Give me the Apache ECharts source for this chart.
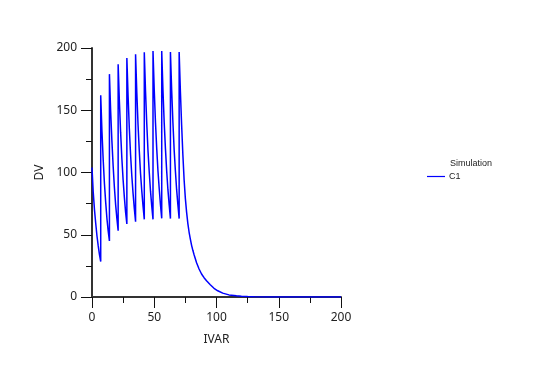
<!DOCTYPE html>
<html>
<head>
<meta charset="utf-8">
<script src="https://cdn.jsdelivr.net/npm/echarts@6/dist/echarts.min.js"></script>
<style>html,body{margin:0;padding:0;background:#fff;}#c{width:560px;height:382px;}</style>
</head>
<body>
<div id="c"></div>
<script>
// IVAR (x) and DV (y) values
var ivar = [
  0,1,2,3,4,5,6,7,
  7,8,9,10,11,12,13,14,
  14,15,16,17,18,19,20,21,
  21,22,23,24,25,26,27,28,
  28,29,30,31,32,33,34,35,
  35,36,37,38,39,40,41,42,
  42,43,44,45,46,47,48,49,
  49,50,51,52,53,54,55,56,
  56,57,58,59,60,61,62,63,
  63,64,65,66,67,68,69,70,
  70,71,72,73,74,75,76,77,78,79,80,81,82,84,86,88,90,92,95,98,101,105,110,116,120,125,130,140,150,160,180,200
];
var dv = [
  104,84,70,59,49,41,34,28.5,
  162,133,110,91,76,63,53,45,
  179,149,125,105,88,74,63,53.3,
  187,157,132,111,94,80,68,58.6,
  192,161,135,114,97,83,71,60.5,
  195,164,138,117,99,85,73,62.4,
  196.5,165,139,117,100,85,73,62.4,
  197.6,166,140,119,101,87,74,63.2,
  197.6,166,140,119,101,86,74,63,
  196.8,166,140,118,101,86,74,63,
  196.8,165,138,114,94,79,68,59,52,46.5,41.5,37.5,34,27.5,22.5,18.5,15.5,13,9.8,7,5,3.1,1.7,1.0,0.6,0.35,0.2,0.07,0.03,0.01,0,0
];
var xTicks = [0, 50, 100, 150, 200];
var yTicks = [0, 50, 100, 150, 200];
var seriesName = 'C1';
var legendTitle = 'Simulation';

var chart = echarts.init(document.getElementById('c'), null, {renderer: 'canvas'});
var font = '"Noto Sans", "Open Sans", sans-serif';
var smallFont = '"Liberation Sans", "DejaVu Sans", sans-serif';
var pts = ivar.map(function (x, i) { return [x, dv[i]]; });

function axisCommon(name, ticks) {
  return {
    type: 'value',
    min: ticks[0],
    max: ticks[ticks.length - 1],
    interval: ticks[1] - ticks[0],
    name: name,
    nameLocation: 'middle',
    nameTextStyle: {color: '#222', fontSize: 12, fontFamily: font},
    axisLine: {show: true, lineStyle: {color: '#333', width: 2}},
    axisTick: {show: true, length: 11, lineStyle: {color: '#111', width: 1}},
    minorTick: {show: true, splitNumber: 2, length: 6, lineStyle: {color: '#111', width: 1}},
    axisLabel: {color: '#222', fontSize: 12, fontFamily: font, margin: 15},
    splitLine: {show: false},
    minorSplitLine: {show: false}
  };
}

var xa = axisCommon('IVAR', xTicks); xa.nameGap = 37;
var ya = axisCommon('DV', yTicks); ya.nameGap = 46;

chart.setOption({
  animation: false,
  backgroundColor: '#fff',
  grid: {left: 92, right: 219, top: 48, bottom: 85, containLabel: false},
  title: {
    text: legendTitle, left: 445, top: 154, padding: 5,
    textStyle: {fontSize: 9, fontWeight: 'normal', color: '#222', fontFamily: smallFont}
  },
  legend: {
    left: 422, top: 167, padding: 5,
    icon: 'rect', itemWidth: 18, itemHeight: 1.2, itemGap: 4,
    data: [seriesName],
    textStyle: {fontSize: 9, color: '#222', fontFamily: smallFont, padding: [0,0,0,-1]}
  },
  xAxis: xa,
  yAxis: ya,
  series: [{
    name: seriesName,
    type: 'line',
    data: pts,
    showSymbol: false,
    symbol: 'none',
    lineStyle: {color: '#0000ff', width: 1.5},
    itemStyle: {color: '#0000ff'}
  }]
});
</script>
</body>
</html>
